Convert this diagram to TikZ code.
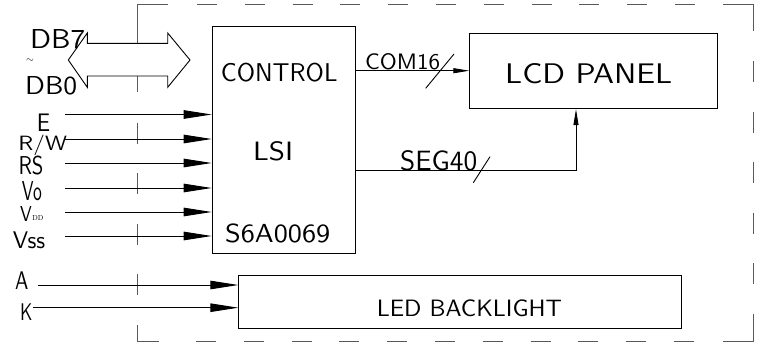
\documentclass[tikz,border=0pt]{standalone}
\usetikzlibrary{arrows.meta}
\newcommand{\rtxt}[3]{\resizebox{#1pt}{#2pt}{\sffamily #3}}
\tikzset{
  box/.style={draw=black, line width=0.9pt, inner sep=0pt, anchor=north west},
  lbl/.style={inner sep=0pt, anchor=base west},
  frame/.style={draw=black!65, line width=1pt},
  inarrow/.style={draw=black, line width=0.9pt, -{Triangle[length=28pt,width=8.5pt]}},
  busarrow/.style={draw=black, line width=0.9pt, -{Triangle[length=16pt,width=5pt]}},
  plain/.style={draw=black, line width=0.9pt}
}
\begin{document}
\begin{tikzpicture}[x=1pt,y=-1pt]
\useasboundingbox (0,0) rectangle (763,343);
% dashed frame
\draw[frame] (137.3,4) -- (168,4) (723,4) -- (753.3,4);
\foreach \k in {0,...,10} {\draw[frame] ({197+47.8*\k},4) -- ({217+47.8*\k},4);}
\draw[frame] (137.3,341.5) -- (159,341.5) (723,341.5) -- (753.3,341.5);
\foreach \k in {0,...,10} {\draw[frame] ({196+47.8*\k},341.5) -- ({216+47.8*\k},341.5);}
\draw[frame] (753.3,4) -- (753.3,31) (753.3,314) -- (753.3,341.5);
\foreach \k in {0,...,4} {\draw[frame] (753.3,{61+50.5*\k}) -- (753.3,{82+50.5*\k});}
\draw[frame] (137.3,4) -- (137.3,43) (137.3,76) -- (137.3,92) (137.3,325) -- (137.3,341.5);
\foreach \k in {0,...,3} {\draw[frame] (137.3,{122.5+50.5*\k}) -- (137.3,{143.5+50.5*\k});}
% data bus double arrow
\draw[plain, fill=white] (68.3,60) -- (87.3,33) -- (87.3,43.3) -- (167.7,43.3) -- (167.7,33) -- (190,60)
  -- (167.7,87.3) -- (167.7,76) -- (87.3,76) -- (87.3,87.3) -- cycle;
% boxes
\node[box, minimum width=143.3pt, minimum height=227.6pt] (ctrl) at (211.7,25.7) {};
\node[box, minimum width=248pt, minimum height=75pt] (lcd) at (469.3,33.3) {};
\node[box, minimum width=443pt, minimum height=52.7pt] (led) at (238.3,275) {};
% texts
\node[lbl] (tdb7) at (30,48) {\rtxt{55}{19}{DB7}};
\node[inner sep=0pt] (ttil) at (30,60.5) {\fontsize{10}{10}\selectfont$\sim$};
\node[lbl] (tdb0) at (25,94) {\rtxt{52}{18}{DB0}};
\node[lbl] (tcontrol) at (220.7,81.7) {\rtxt{116.6}{18.4}{CONTROL}};
\node[lbl] (tlsi) at (253,160.7) {\rtxt{40}{19}{LSI}};
\node[lbl] (tchip) at (225,242.7) {\rtxt{105}{18.7}{S6A0069}};
\node[lbl] (tlcd) at (505,83) {\rtxt{167}{20}{LCD PANEL}};
\node[lbl] (tcom) at (365,69.3) {\rtxt{75}{16}{COM16}};
\node[lbl] (tseg) at (400,170) {\rtxt{77}{20}{SEG40}};
\node[lbl] (tE) at (36.7,131) {\rtxt{13.3}{17.5}{E}};
\node[lbl] (tRW) at (18.3,150.5) {\rtxt{48.4}{15.5}{R/W}};
\node[lbl] (tRS) at (18.3,174) {\rtxt{25}{18.5}{RS}};
\node[lbl] (tVo) at (21.7,200.5) {\rtxt{20}{19}{Vo}};
\node[lbl] (tVdd) at (20,221.7) {\rtxt{11.7}{15}{V}\hspace{0.5pt}\raisebox{1.7pt}{\resizebox{11pt}{5pt}{\rmfamily DD}}};
\node[lbl] (tVss) at (12.7,248.3) {\rtxt{32.3}{16.7}{Vss}};
\node[lbl] (tA) at (15,289.3) {\rtxt{13.3}{17.7}{A}};
\node[lbl] (tK) at (20,320) {\rtxt{12.3}{16.7}{K}};
\node[lbl] (tled) at (376.7,316.7) {\rtxt{185}{16.7}{LED BACKLIGHT}};
% input connectors
\coordinate (iE) at (65,114.5);
\coordinate (iRW) at (65,139);
\coordinate (iRS) at (65,163);
\coordinate (iVo) at (65,188);
\coordinate (iVdd) at (65,212);
\coordinate (iVss) at (65,236);
\coordinate (iA) at (38.3,285);
\coordinate (iK) at (33.3,307.7);
\foreach \c in {iE,iRW,iRS,iVo,iVdd,iVss} {\draw[inarrow] (\c) -- (ctrl.west |- \c);}
\foreach \c in {iA,iK} {\draw[inarrow] (\c) -- (led.west |- \c);}
% outputs
\coordinate (com) at (355,70.7);
\coordinate (seg) at (576,170.7);
\draw[busarrow] (ctrl.east |- com) -- (lcd.west |- com);
\draw[busarrow] (ctrl.east |- seg) -- (seg) -- (seg |- lcd.south);
% bus width slashes
\coordinate (s1a) at (425.7,88.3); \coordinate (s1b) at (454,54);
\coordinate (s2a) at (473.3,182.7); \coordinate (s2b) at (490,156.7);
\draw[plain] (s1a) -- (s1b);
\draw[plain] (s2a) -- (s2b);
\end{tikzpicture}
\end{document}
